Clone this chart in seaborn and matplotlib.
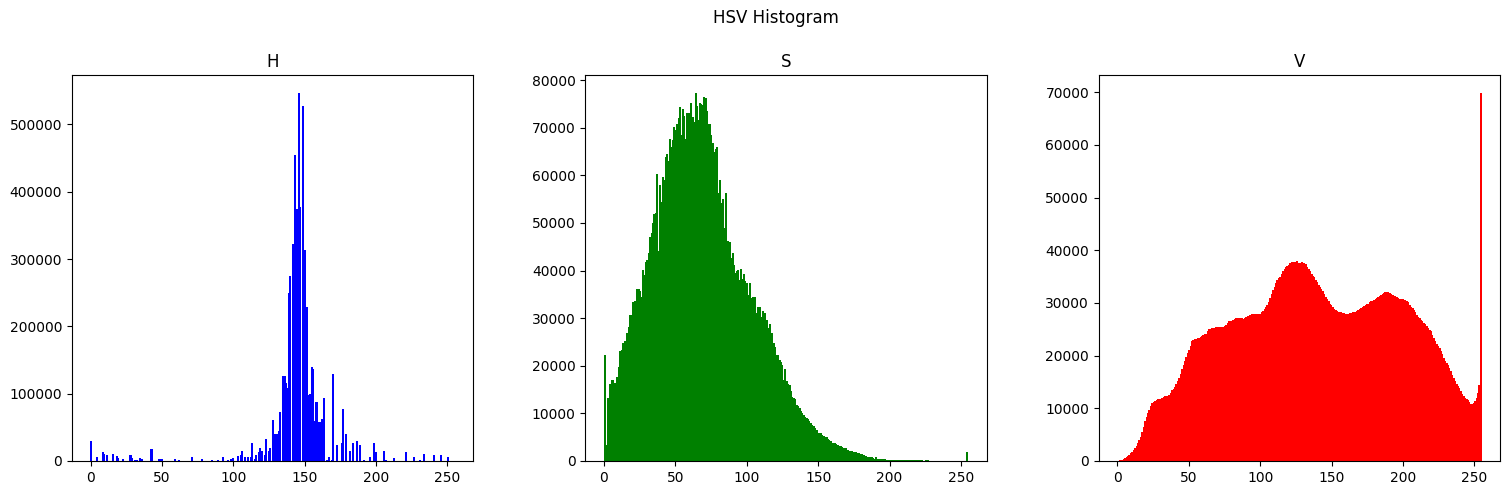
import numpy as np
import seaborn as sns
import matplotlib.pyplot as plt

# hue only fills some of the 256 bins
h_bins = [0, 4, 8, 9, 11, 15, 18, 19, 22, 27, 28, 29, 31, 32, 34, 36, 42, 43, 48, 49, 50, 59, 62, 71,
          78, 85, 89, 93, 96, 98, 100, 103, 105, 106, 108, 110, 112, 113, 115, 116, 118, 119, 120,
          122, 123, 125, 126, 128, 129, 130, 131, 132, 133, 135, 136, 137, 138, 139, 140, 142, 143,
          144, 145, 146, 147, 149, 150, 152, 153, 154, 155, 156, 157, 158, 159, 160, 161, 162, 163,
          164, 166, 167, 169, 170, 173, 176, 177, 179, 182, 184, 187, 189, 192, 196, 199, 200, 206,
          207, 213, 221, 227, 231, 234, 241, 246, 251]
h_counts = [29700, 6000, 13400, 10000, 9000, 10400, 7500, 4500, 3000, 9000, 9000, 4500, 1500, 1500, 4500,
            3000, 18000, 18000, 3000, 3000, 3000, 2500, 1500, 6000,
            3000, 1500, 2000, 6000, 1500, 3000, 4500, 7500, 9000, 14850, 6000, 6000, 6000, 26700, 3000, 9000, 13000, 19000, 15000,
            9000, 32000, 15000, 19000, 61000, 40000, 40000, 40000, 44500, 73000, 126000, 126000, 116000, 108000, 250000, 275000, 322000, 454000,
            374000, 374000, 546000, 377000, 528000, 313000, 228000, 98000, 100000, 139600, 136600, 60000, 87600, 87600, 58000, 58000, 62000, 62000,
            93500, 1500, 6000, 2000, 129000, 24000, 26700, 77000, 40000, 15000, 26700, 29700, 24000, 1500, 6000, 26700, 13000, 15000,
            1500, 4500, 13000, 6000, 1500, 10000, 9000, 9000, 6000]

s_counts = [22200, 3400, 13200, 10700, 16200, 17000, 17000, 16300, 16400, 17700,
            19800, 23200, 23300, 24700, 25200, 25200, 26800, 28200, 30700, 30700,
            33300, 33500, 32800, 36100, 36100, 35600, 34500, 40200, 39000, 41700,
            42200, 43700, 47000, 47900, 50000, 51900, 52000, 60300, 44100, 58000,
            54400, 59600, 59000, 63800, 64500, 63000, 67600, 66000, 67400, 70100,
            69500, 70700, 72000, 74300, 68400, 73900, 72500, 67600, 73100, 73100,
            71800, 75100, 72300, 71200, 77200, 74500, 71600, 75100, 75000, 74800,
            76400, 76300, 73500, 70700, 70700, 68400, 66800, 64900, 65500, 66000,
            56300, 59000, 54200, 55000, 48900, 56300, 45800, 46200, 46000, 42600,
            43700, 41200, 39500, 39900, 40100, 38000, 40300, 38200, 39300, 37800,
            37400, 34900, 37400, 34200, 34500, 34500, 34500, 31000, 32400, 32400,
            30300, 31400, 30300, 31100, 29600, 27900, 28800, 26800, 26800, 24700,
            23900, 22300, 22300, 21200, 20800, 20200, 17100, 19300, 16700, 16200,
            16000, 14600, 13500, 13300, 13000, 11800, 11500, 11100, 10500, 10000,
            9600, 9300, 9000, 8800, 8300, 7900, 7600, 7400, 6900, 6500,
            5950, 5900, 5800, 5500, 5300, 5100, 5000, 4700, 4400, 4100,
            3850, 3800, 3700, 3500, 3300, 3200, 3150, 3000, 2800, 2700,
            2660, 2400, 2170, 2100, 2050, 1960, 1960, 1800, 1700, 1600,
            1540, 1400, 1300, 1150, 1000, 900, 770, 770, 770, 600,
            420, 840, 500, 420, 400, 420, 400, 350, 280, 300,
            280, 260, 250, 240, 250, 230, 260, 280, 210, 200,
            190, 180, 210, 170, 150, 160, 140, 150, 150, 210,
            130, 120, 110, 120, 100, 100, 110, 210, 100, 90,
            80, 70, 80, 70, 60, 70, 60, 50, 60, 50,
            50, 40, 50, 40, 40, 30, 40, 30, 30, 30,
            20, 30, 20, 20, 30, 1960]

v_counts = [60, 110, 190, 280, 380, 500, 680, 880, 1100, 1450,
            1800, 2100, 2400, 2900, 3400, 4000, 4600, 5500, 6500, 7500,
            8400, 9100, 9700, 10400, 11000, 11200, 11400, 11600, 11700, 11800,
            11800, 12000, 12200, 12250, 12300, 12400, 12500, 12900, 13400, 13700,
            14100, 14600, 15100, 15800, 16600, 17400, 18200, 19000, 19800, 20500,
            21100, 21900, 22700, 22900, 23100, 23200, 23300, 23400, 23600, 23800,
            24000, 24100, 24200, 24600, 25000, 25100, 25200, 25200, 25300, 25350,
            25400, 25450, 25450, 25500, 25500, 25600, 25800, 26200, 26600, 26600,
            26600, 26800, 27000, 27100, 27200, 27200, 27200, 27100, 27000, 27200,
            27400, 27500, 27600, 27800, 27900, 27900, 27950, 28000, 28000, 28000,
            28000, 28200, 28400, 28800, 29200, 29600, 30100, 31000, 31800, 32500,
            33100, 33800, 34400, 34700, 35000, 35500, 36000, 36500, 36900, 37000,
            37200, 37500, 37700, 37750, 37800, 37700, 37900, 37600, 37660, 37700,
            37660, 37500, 37400, 36900, 36400, 36000, 35500, 35200, 35000, 34400,
            33900, 33400, 33000, 32600, 32200, 31700, 31200, 30800, 30300, 29900,
            29600, 29200, 28800, 28600, 28500, 28300, 28200, 28200, 28150, 28100,
            28000, 28000, 28000, 28050, 28100, 28200, 28300, 28350, 28400, 28600,
            28800, 29000, 29200, 29400, 29600, 29750, 29900, 30100, 30300, 30450,
            30600, 30800, 31000, 31200, 31400, 31550, 31700, 31850, 32000, 32050,
            32100, 31950, 31800, 31600, 31400, 31300, 31200, 31000, 30800, 30750,
            30700, 30650, 30600, 30350, 30100, 29700, 29300, 29000, 28700, 28200,
            27700, 27400, 27100, 26800, 26500, 26250, 26000, 25600, 25200, 24900,
            24600, 24000, 23300, 22800, 22300, 21850, 21400, 20900, 20400, 19650,
            18900, 18550, 18200, 17600, 17000, 16350, 15700, 15200, 14700, 14250,
            13800, 13300, 12800, 12400, 12000, 11800, 11600, 11200, 10800, 10800,
            11100, 11300, 11900, 13000, 14500, 69800]

levels = np.arange(256)

fig, axes = plt.subplots(1, 3, figsize=(15.09, 4.95), dpi=100)
fig.subplots_adjust(left=72/1509, right=1500/1509, top=1-75/495, bottom=1-461/495, wspace=0.28)

panels = [("H", h_bins, h_counts, "blue"), ("S", levels, s_counts, "green"), ("V", levels, v_counts, "red")]
for ax, (name, x, y, col) in zip(axes, panels):
    sns.histplot(x=x, weights=y, bins=256, binrange=(0, 255), shrink=1.4, color=col, alpha=1, linewidth=0, ax=ax)
    ax.set_title(name)
    ax.set_xlabel("")
    ax.set_ylabel("")

fig.suptitle("HSV Histogram", x=776/1509, y=1-18/495, va="center")
plt.savefig("out.png", dpi=100)
